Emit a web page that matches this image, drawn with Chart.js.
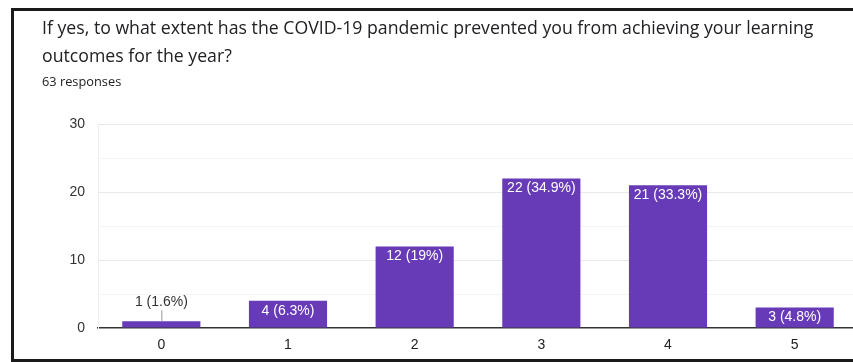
<!DOCTYPE html>
<html>
<head>
<meta charset="utf-8">
<script src="https://cdn.jsdelivr.net/npm/chart.js@4.4.0/dist/chart.umd.min.js"></script>
<style>
  html, body { margin: 0; padding: 0; background: #fff; }
  #wrap { position: relative; width: 853px; height: 362px; overflow: hidden; background: #fff; }
  #frame { position: absolute; left: 11px; top: 8px; width: 900px; height: 348px;
           border-left: 3px solid #1a1a1a; border-top: 3px solid #1a1a1a; border-bottom: 3px solid #1a1a1a; }
  #title { position: absolute; left: 42px; top: 13px; width: 810px; font-family: "Open Sans", Roboto, sans-serif;
           font-size: 17.7px; line-height: 28px; color: #202124; white-space: nowrap; }
  #sub { position: absolute; left: 42px; top: 72px; font-family: "Open Sans", sans-serif; font-size: 12.8px; color: #202124; }
  #cv { position: absolute; left: 0; top: 0; }
</style>
</head>
<body>
<div id="wrap">
  <div id="frame"></div>
  <canvas id="cv" width="875" height="362"></canvas>
  <div id="title">If yes, to what extent has the COVID-19 pandemic prevented you from achieving your learning<br>outcomes for the year?</div>
  <div id="sub">63 responses</div>
</div>
<script>
const categories = ["0", "1", "2", "3", "4", "5"];
const counts = [1, 4, 12, 22, 21, 3];
const percentLabels = ["1.6%", "6.3%", "19%", "34.9%", "33.3%", "4.8%"];
const yTicks = [0, 10, 20, 30];

const barLabelPlugin = {
  id: 'barLabels',
  afterDatasetsDraw(chart) {
    const ctx = chart.ctx;
    const meta = chart.getDatasetMeta(0);
    ctx.save();
    ctx.font = '14px "Liberation Sans", Arial, sans-serif';
    ctx.textAlign = 'center';
    ctx.textBaseline = 'middle';
    meta.data.forEach((bar, i) => {
      const txt = counts[i] + ' (' + percentLabels[i] + ')';
      const h = bar.base - bar.y;
      if (h > 16) {
        ctx.fillStyle = '#ffffff';
        ctx.fillText(txt, bar.x, bar.y + 10);
      } else {
        ctx.strokeStyle = '#999999';
        ctx.lineWidth = 1;
        ctx.beginPath();
        ctx.moveTo(bar.x + 0.5, bar.y);
        ctx.lineTo(bar.x + 0.5, bar.y - 11);
        ctx.stroke();
        ctx.fillStyle = '#333333';
        ctx.fillText(txt, bar.x, bar.y - 19);
      }
    });
    ctx.restore();
  }
};

new Chart(document.getElementById('cv'), {
  type: 'bar',
  data: {
    labels: categories,
    datasets: [{
      data: counts,
      backgroundColor: '#673ab7',
      borderWidth: 0,
      categoryPercentage: 1.0,
      barPercentage: 0.617
    }]
  },
  options: {
    responsive: false,
    animation: false,
    devicePixelRatio: 1,
    layout: { padding: { top: 124, right: 17, left: 0, bottom: 0 } },
    plugins: { legend: { display: false }, tooltip: { enabled: false }, title: { display: false } },
    scales: {
      x: {
        afterFit(s) { s.height = 34; },
        grid: { display: false, drawTicks: false },
        border: { display: true, color: '#333333', width: 1.5 },
        ticks: { color: '#222222', font: { family: '"Liberation Sans", Arial', size: 14 }, padding: 9 }
      },
      y: {
        min: 0, max: 30,
        afterFit(s) { s.width = 98; },
        afterBuildTicks(s) {
          s.ticks = [0, 5, 10, 15, 20, 25, 30].map(v => ({ value: v }));
        },
        grid: {
          drawTicks: false,
          color(c) {
            const v = c.tick ? c.tick.value : 0;
            if (v === 0) return 'rgba(0,0,0,0)';
            return v % 10 === 0 ? '#e9e9e9' : '#f4f4f4';
          },
          lineWidth: 1
        },
        border: { display: true, color: '#eeeeee' },
        ticks: {
          color: '#333333',
          font: { family: '"Liberation Sans", Arial', size: 14 },
          padding: 13,
          callback(v) { return yTicks.includes(v) ? String(v) : ''; }
        }
      }
    }
  },
  plugins: [barLabelPlugin]
});
</script>
</body>
</html>
